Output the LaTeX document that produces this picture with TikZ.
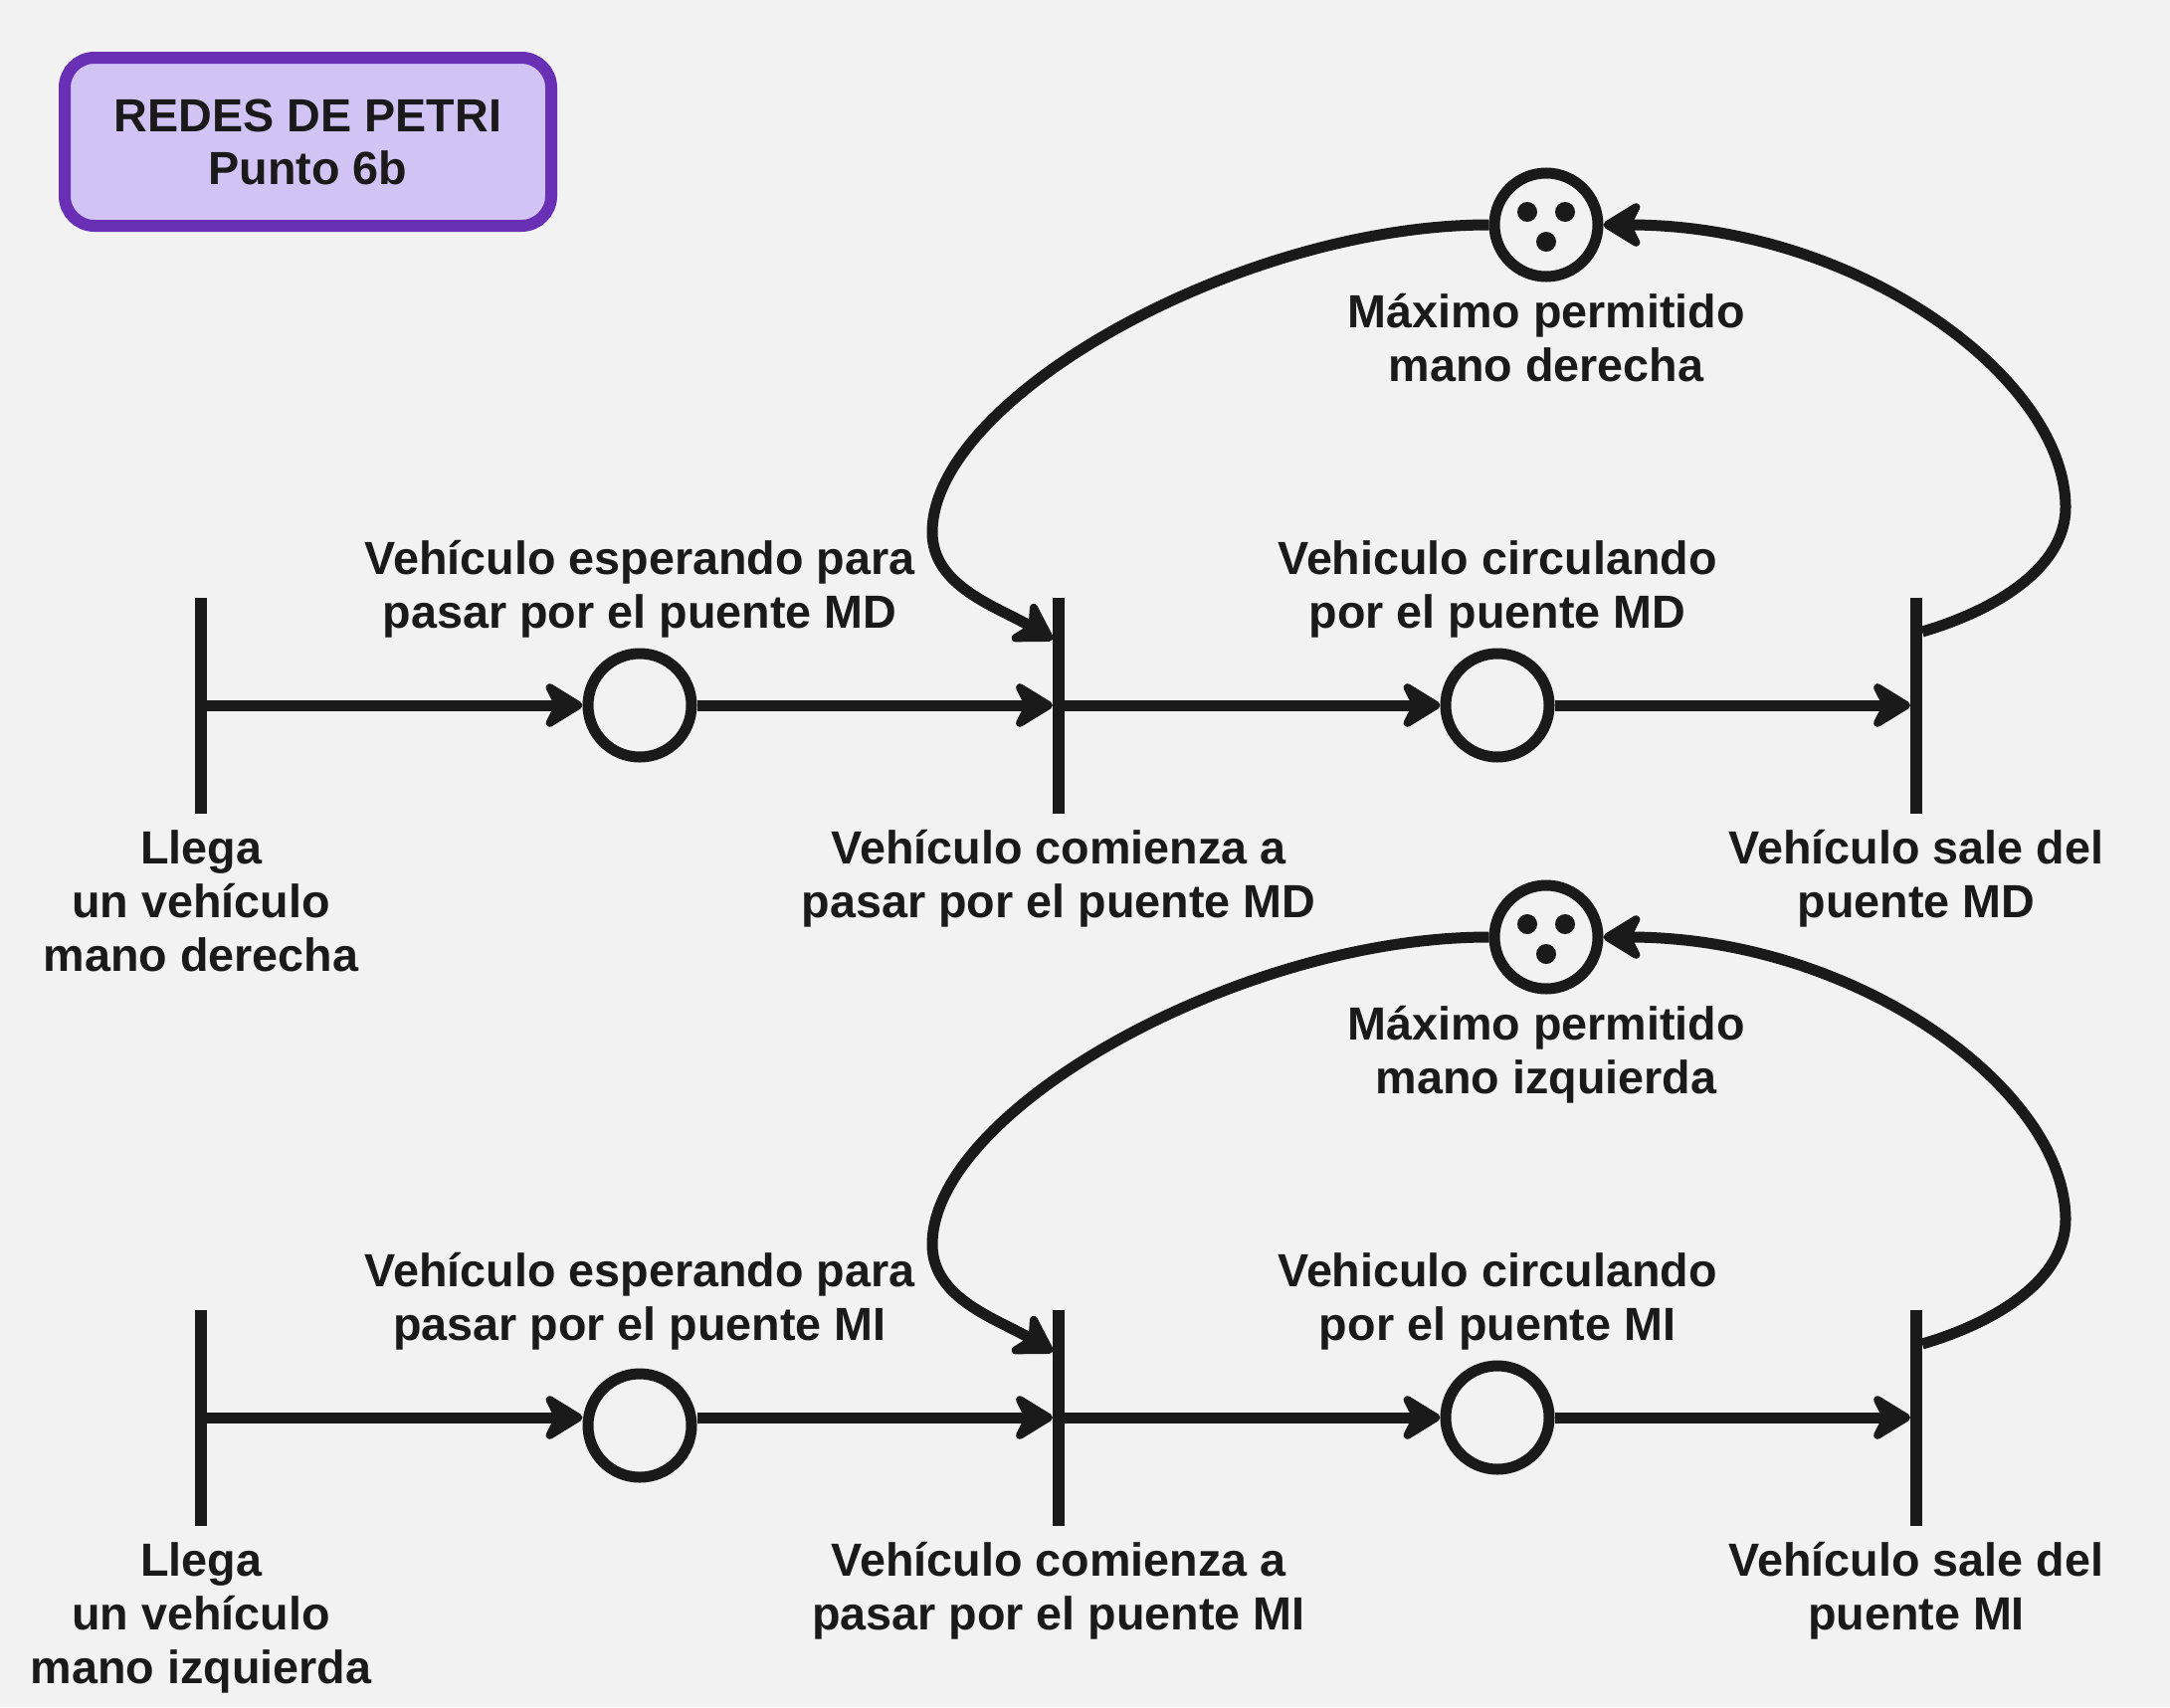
\documentclass[tikz,border=0pt]{standalone}
\usepackage{fontspec}
\setmainfont{Liberation Sans}
\usetikzlibrary{arrows.meta,calc}
\definecolor{ink}{HTML}{1A1A1A}
\definecolor{bg}{HTML}{F2F2F2}
\definecolor{tfill}{HTML}{D1C4F5}
\definecolor{tdraw}{HTML}{6930B5}
\tikzset{
  trans/.style={rectangle,fill=ink,minimum width=12pt,minimum height=217pt,inner sep=0pt,outer sep=0pt},
  place/.style={circle,draw=ink,line width=11pt,minimum size=104pt,inner sep=0pt},
  lbl/.style={anchor=base,align=center,inner sep=0pt,text=ink,font=\fontsize{46.7pt}{54pt}\selectfont\bfseries},
  arr/.style={draw=ink,line width=11pt,-{Stealth[length=46pt,width=56pt,inset=14pt,round]}},
  titlebox/.style={rectangle,rounded corners=30pt,draw=tdraw,fill=tfill,line width=12pt,minimum width=489pt,minimum height=169pt,align=center,text=ink,font=\fontsize{46.7pt}{53pt}\selectfont\bfseries}
}
\begin{document}
\begin{tikzpicture}[x=1pt,y=-1pt]
\fill[bg] (0,0) rectangle (2181,1716);
\useasboundingbox (0,0) rectangle (2181,1716);
\node[titlebox] (title) at (309.5,142.5) {REDES DE PETRI\\Punto 6b};
\foreach \r/\d/\e/\m/\h in {a/0/0/MD/derecha, b/716/8/MI/izquierda}{
  \node[trans] (T1\r) at (202,{709+\d}) {};
  \node[trans] (T2\r) at (1064,{709+\d}) {};
  \node[trans] (T3\r) at (1926,{709+\d}) {};
  \node[place] (P1\r) at (643,{709+\d+\e}) {};
  \node[place] (P2\r) at (1505,{709+\d}) {};
  \node[place] (P3\r) at (1554,{226+\d}) {};
  \fill[ink] ($(P3\r)+(-19,-13)$) circle (10pt);
  \fill[ink] ($(P3\r)+(19,-13)$) circle (10pt);
  \fill[ink] ($(P3\r)+(0,17)$) circle (10pt);
  \coordinate (R\r) at (2076,{510+\d});
  \coordinate (L\r) at (937,{535+\d});
  % labels (base anchor = baseline of the last line)
  \node[lbl] (lp1\r) at (643,{631+\d}) {Vehículo esperando para\\pasar por el puente \m};
  \node[lbl] (lp2\r) at (1505,{631+\d}) {Vehiculo circulando\\por el puente \m};
  \node[lbl] (lp3\r) at (1554,{383+\d}) {Máximo permitido\\mano \h};
  \node[lbl] (lt1\r) at (202,{976+\d}) {Llega\\un vehículo\\mano \h};
  \node[lbl] (lt2\r) at (1064,{922+\d}) {Vehículo comienza a\\pasar por el puente \m};
  \node[lbl] (lt3\r) at (1926,{922+\d}) {Vehículo sale del\\puente \m};
  % arcs
  \draw[arr] (T1\r) -- (T1\r -| P1\r.west);
  \draw[arr] (P1\r.east |- T2\r) -- (T2\r);
  \draw[arr] (T2\r) -- (P2\r);
  \draw[arr] (P2\r) -- (T3\r);
  \draw[arr] ($(T3\r.east)+(0,-74)$) .. controls +(75,-22) and +(0,60) .. (R\r)
     .. controls +(0,-130) and +(255,0) .. (P3\r.east);
  \draw[arr] (P3\r.west) .. controls +(-250,0) and +(0,-135) .. (L\r)
     .. controls +(0,55) and +(-55,-33) .. ($(T2\r.west)+(0,-66)$);
}
\end{tikzpicture}
\end{document}
